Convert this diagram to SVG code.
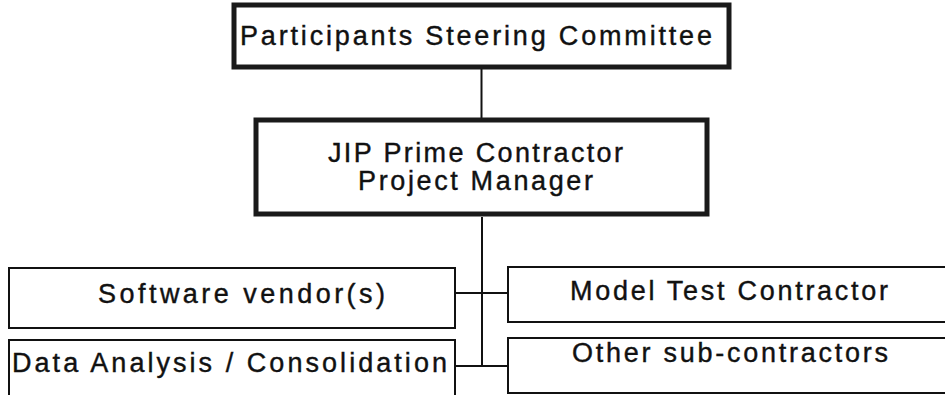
<svg xmlns="http://www.w3.org/2000/svg" width="945" height="395" viewBox="0 0 945 395">
<style>
.box{fill:#fff;stroke:#111;stroke-width:2}
.thick{fill:#fff;stroke:#1a1a1a;stroke-width:5}
.t{font-family:"Liberation Sans",Arial,sans-serif;font-size:27px;fill:#111;stroke:#111;stroke-width:0.4}
.c{stroke:#111;stroke-width:2;fill:none}
</style>
<rect width="945" height="395" fill="#fff"/>
<g id="connectors">
<line class="c" x1="481.5" y1="67" x2="481.5" y2="120"/>
<line class="c" x1="482" y1="217" x2="482" y2="367"/>
<line class="c" x1="455" y1="293" x2="508" y2="293"/>
<line class="c" x1="455" y1="366" x2="508" y2="366"/>
</g>
<g id="steering">
<rect class="thick" x="234" y="5" width="495" height="62"/>
<text class="t" x="240" y="45" textLength="472" lengthAdjust="spacing">Participants Steering Committee</text>
</g>
<g id="prime">
<rect class="thick" x="256" y="120" width="451" height="94"/>
<text class="t" x="328" y="162" textLength="295" lengthAdjust="spacing">JIP Prime Contractor</text>
<text class="t" x="358" y="190" textLength="235" lengthAdjust="spacing">Project Manager</text>
</g>
<g id="software">
<rect class="box" x="9" y="268" width="446" height="60"/>
<text class="t" x="98" y="303" textLength="287" lengthAdjust="spacing">Software vendor(s)</text>
</g>
<g id="data">
<rect class="box" x="9" y="340" width="446" height="62"/>
<text class="t" x="12" y="372" textLength="435" lengthAdjust="spacing">Data Analysis / Consolidation</text>
</g>
<g id="model">
<rect class="box" x="508" y="267" width="445" height="55"/>
<text class="t" x="570" y="300" textLength="318" lengthAdjust="spacing">Model Test Contractor</text>
</g>
<g id="other">
<rect class="box" x="508" y="338" width="445" height="55"/>
<text class="t" x="572" y="362" textLength="316" lengthAdjust="spacing">Other sub-contractors</text>
</g>
</svg>
